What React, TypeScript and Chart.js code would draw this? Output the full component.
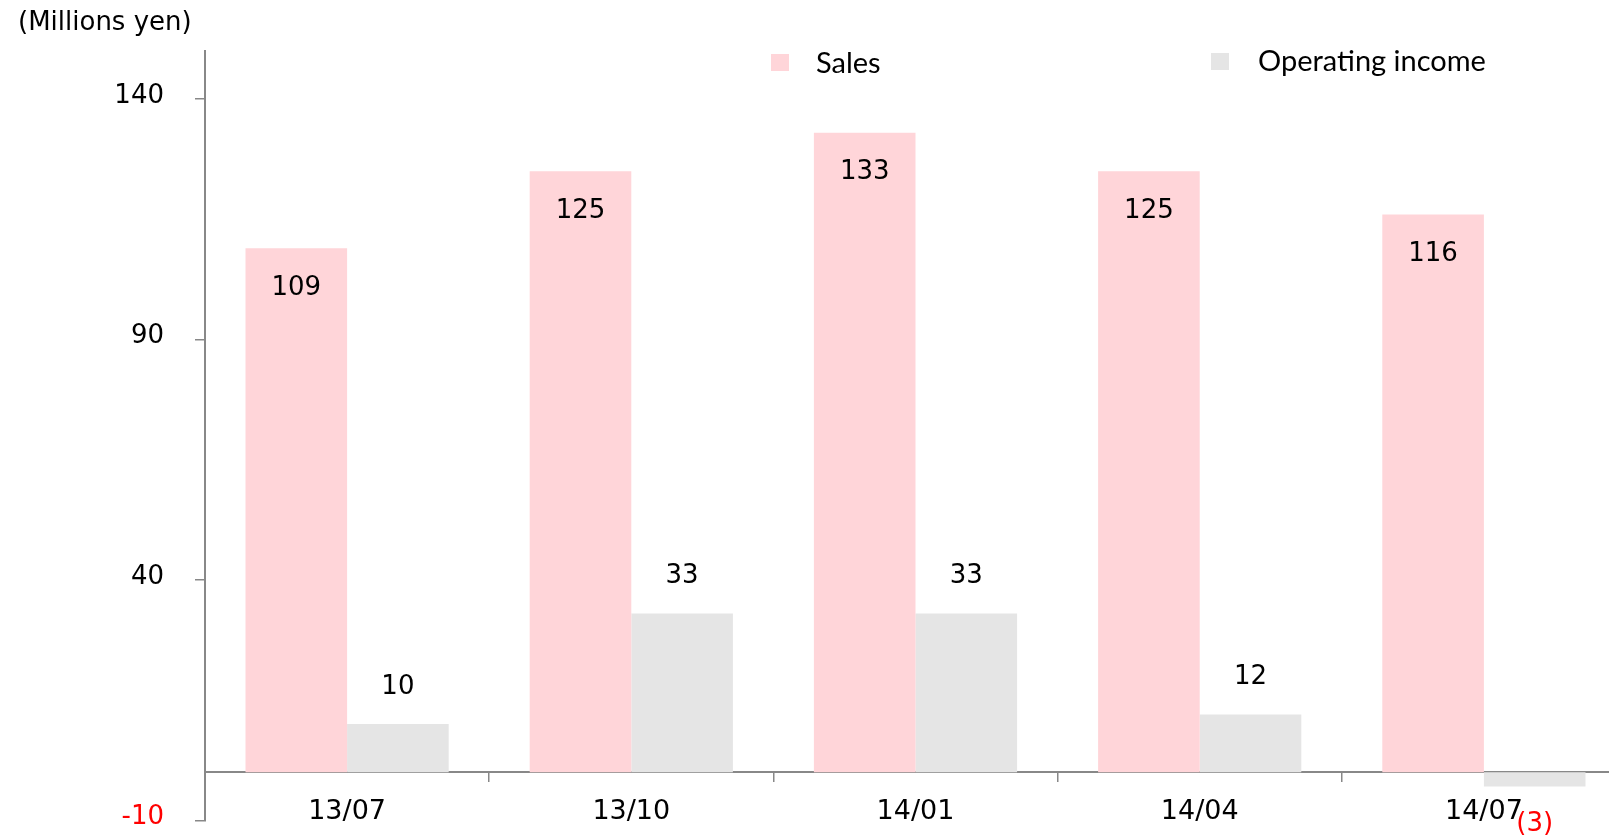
import React, { useEffect, useRef } from "react";
import { Chart, registerables } from "chart.js";

Chart.register(...registerables);

// ---- data ----
const categories = ["13/07", "13/10", "14/01", "14/04", "14/07"];
const salesValues = [109, 125, 133, 125, 116];
const incomeValues = [10, 33, 33, 12, -3];
const yTickValues = [-10, 40, 90, 140];
const seriesNames = ["Sales", "Operating income"];
const unitLabel = "(Millions yen)";
const yMin = -10;
const yMax = 150;

// ---- styles ----
const SALES_COLOR = "#FFD5D9";
const INCOME_COLOR = "#E5E5E5";
const AXIS_COLOR = "#888888";
const NUM_FONT = "'DejaVu Sans', Verdana, sans-serif";
const LEGEND_FONT = "Lato, 'Open Sans', sans-serif";
const W = 1640;
const H = 857;

const fmt = (v: number) => (v < 0 ? `(${Math.abs(v)})` : String(v));

const labelPlugin = {
  id: "barLabels",
  afterDatasetsDraw(chart: any) {
    const ctx = chart.ctx;
    ctx.save();
    ctx.font = `26px ${NUM_FONT}`;
    ctx.textAlign = "center";
    ctx.textBaseline = "middle";
    chart.data.datasets.forEach((ds: any, di: number) => {
      const meta = chart.getDatasetMeta(di);
      meta.data.forEach((bar: any, i: number) => {
        const v = ds.data[i] as number;
        const { x, y } = bar.getProps(["x", "y"], true);
        let ty: number;
        let color = "#000000";
        if (di === 0) ty = y + 40;
        else if (v >= 0) ty = y - 37;
        else {
          ty = y + 38;
          color = "#FF0000";
        }
        ctx.fillStyle = color;
        ctx.fillText(fmt(v), x, ty);
      });
    });
    ctx.restore();
  },
};

const decorPlugin = {
  id: "decor",
  afterDraw(chart: any) {
    const ctx = chart.ctx;
    ctx.save();
    ctx.font = `26px ${NUM_FONT}`;
    ctx.fillStyle = "#000";
    ctx.textAlign = "left";
    ctx.textBaseline = "middle";
    ctx.fillText(unitLabel, 18, 23);
    const items = [
      { box: [771, 54], text: [816, 64] },
      { box: [1211, 53], text: [1258, 62] },
    ];
    ctx.font = `29px ${LEGEND_FONT}`;
    chart.data.datasets.forEach((ds: any, i: number) => {
      const it = items[i];
      ctx.fillStyle = ds.backgroundColor;
      ctx.fillRect(it.box[0], it.box[1], 18, 17);
      ctx.fillStyle = "#000";
      ctx.fillText(ds.label, it.text[0], it.text[1]);
    });
    ctx.restore();
  },
};

export default function App() {
  const ref = useRef<HTMLCanvasElement | null>(null);
  useEffect(() => {
    document.body.style.overflow = "hidden";
    document.documentElement.style.overflow = "hidden";
    const canvas = ref.current;
    if (!canvas) return;
    const chart = new Chart(canvas, {
      type: "bar",
      data: {
        labels: categories,
        datasets: [
          {
            label: seriesNames[0],
            data: salesValues,
            backgroundColor: SALES_COLOR,
            borderWidth: 0,
            barPercentage: 1,
            categoryPercentage: 0.715,
          },
          {
            label: seriesNames[1],
            data: incomeValues,
            backgroundColor: INCOME_COLOR,
            borderWidth: 0,
            barPercentage: 1,
            categoryPercentage: 0.715,
          },
        ],
      },
      options: {
        responsive: false,
        animation: false,
        devicePixelRatio: 1,
        layout: { padding: { left: 0, right: 14, top: 51, bottom: 28 } },
        plugins: {
          legend: { display: false },
          tooltip: { enabled: false },
          title: { display: false },
        },
        scales: {
          x: {
            position: { y: 0 } as any,
            offset: true,
            grid: {
              display: true,
              drawOnChartArea: false,
              drawTicks: true,
              tickLength: 9,
              color: AXIS_COLOR,
              lineWidth: 1.5,
              offset: true,
            },
            border: { display: true, color: AXIS_COLOR, width: 2 },
            ticks: {
              font: { family: NUM_FONT, size: 27 },
              color: "#000",
              padding: 15,
              maxRotation: 0,
              autoSkip: false,
            },
          },
          y: {
            min: yMin,
            max: yMax,
            afterBuildTicks: (scale: any) => {
              scale.ticks = yTickValues.map((v) => ({ value: v }));
            },
            afterFit: (scale: any) => {
              scale.width = 205;
            },
            grid: {
              drawOnChartArea: false,
              drawTicks: true,
              tickLength: 10,
              color: AXIS_COLOR,
              lineWidth: 1.5,
            },
            border: { display: true, color: AXIS_COLOR, width: 2 },
            ticks: {
              font: { family: NUM_FONT, size: 26, lineHeight: 0.22 },
              color: (c: any) => (c.tick && c.tick.value < 0 ? "#FF0000" : "#000000"),
              padding: 31,
              callback: (v: any) => [String(v), ""],
            },
          },
        },
      },
      plugins: [labelPlugin, decorPlugin],
    });
    return () => chart.destroy();
  }, []);
  return (
    <div style={{ position: "fixed", left: 0, top: 0, width: W, height: H, background: "#fff" }}>
      <canvas ref={ref} width={W} height={H} style={{ display: "block", width: W, height: H }} />
    </div>
  );
}
